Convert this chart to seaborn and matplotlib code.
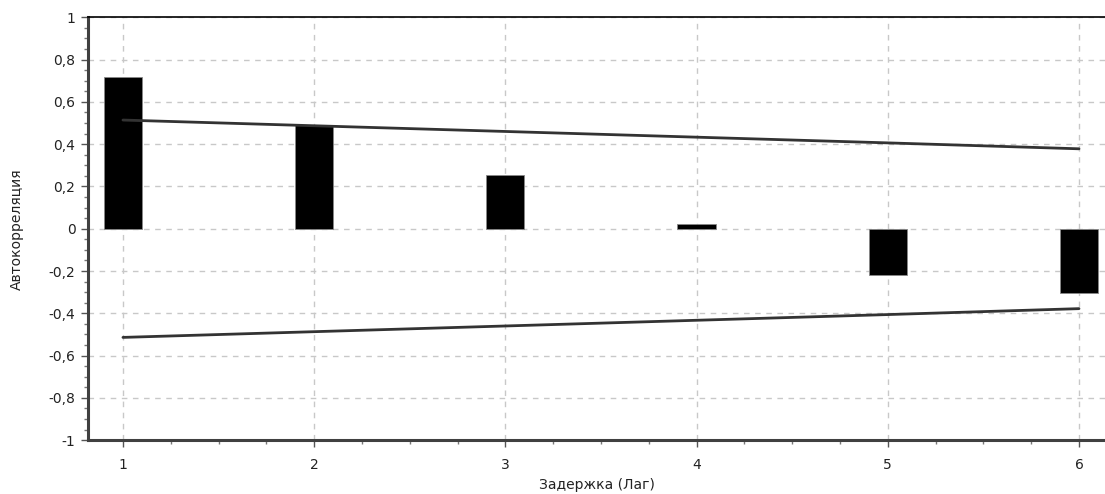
'''
Autocorrelation plot by lag with confidence bands
Output: out.png
'''

import numpy as np
import pandas as pd
import seaborn as sns
import matplotlib.pyplot as plt
from matplotlib.ticker import MultipleLocator, FuncFormatter

# data
lags = [1, 2, 3, 4, 5, 6]
acf = [0.716, 0.489, 0.252, 0.02, -0.217, -0.305]
upper_band = [0.514, 0.487, 0.460, 0.433, 0.406, 0.378]
lower_band = [-0.514, -0.487, -0.460, -0.433, -0.406, -0.378]

df = pd.DataFrame({'lag': lags, 'acf': acf, 'up': upper_band, 'lo': lower_band})

# plot settings
sns.set_theme(style="white")
plt.rcParams['font.family'] = ['DejaVu Sans']
plt.rcParams['font.size'] = 9.5

fig = plt.figure(figsize=(11.05, 4.94), dpi=100)
ax = fig.add_axes([0.0796, 0.109, 0.9204, 0.856])

sns.barplot(data=df, x='lag', y='acf', native_scale=True, width=0.2,
            color='black', edgecolor='#888888', linewidth=0.6, saturation=1,
            ax=ax, zorder=3)
sns.lineplot(data=df, x='lag', y='up', color='#333333', linewidth=2, ax=ax, zorder=4)
sns.lineplot(data=df, x='lag', y='lo', color='#333333', linewidth=2, ax=ax, zorder=4)

ax.set_xlim(0.817, 6.136)
ax.set_ylim(-1, 1)
ax.xaxis.set_major_locator(MultipleLocator(1))
ax.xaxis.set_minor_locator(MultipleLocator(0.25))
ax.yaxis.set_major_locator(MultipleLocator(0.2))
ax.yaxis.set_minor_locator(MultipleLocator(0.05))
ax.xaxis.set_major_formatter(FuncFormatter(lambda v, p: f'{v:.0f}'))
ax.yaxis.set_major_formatter(FuncFormatter(
    lambda v, p: ('0' if abs(v) < 1e-9 else f'{v:.1f}'.rstrip('0').rstrip('.')).replace('.', ',')))

ax.grid(True, which='major', color='#c8c8c8', linestyle=(0, (4, 4)), linewidth=1)
ax.set_axisbelow(True)

for side in ['left', 'bottom']:
    ax.spines[side].set_color('#404040')
    ax.spines[side].set_linewidth(2.2)
ax.spines['top'].set_color('black')
ax.spines['top'].set_linewidth(1.2)
ax.spines['right'].set_visible(False)

ax.tick_params(which='major', direction='out', length=5, width=1, color='#555555',
               labelsize=10, labelcolor='#222222', left=True, bottom=True)
ax.tick_params(which='minor', direction='out', length=3, width=1, color='#777777',
               left=True, bottom=True)
ax.tick_params(axis='y', pad=4)
ax.tick_params(axis='x', pad=8)

ax.set_xlabel('Задержка (Лаг)', fontsize=10, color='#222222', labelpad=4)
ax.set_ylabel('Автокорреляция', fontsize=10, color='#222222', labelpad=18)

plt.savefig('out.png', dpi=100)
plt.close()
